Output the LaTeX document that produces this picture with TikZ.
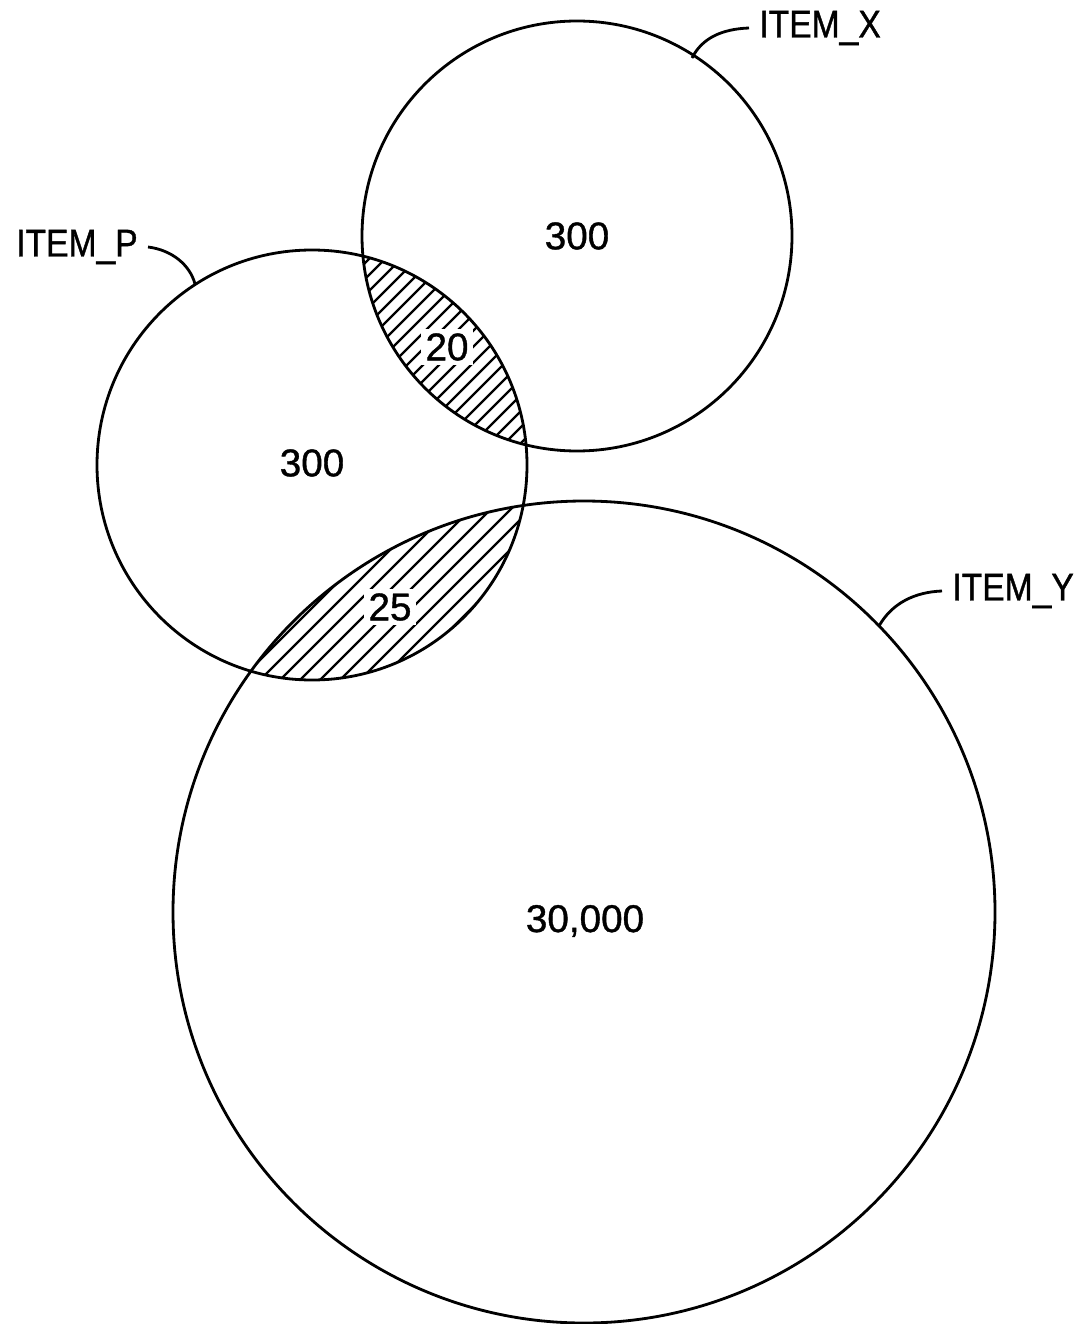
\documentclass[tikz,border=0pt]{standalone}
\usepackage{fontspec}
\setmainfont[FakeBold=1]{Liberation Sans}
\newfontfamily\labfont[FakeStretch=0.87,FakeBold=1]{Liberation Sans}
\begin{document}
\begin{tikzpicture}[x=0.02cm,y=-0.02cm,
  ring/.style={line width=1.6pt},
  hatchline/.style={line width=1.3pt},
  num/.style={font=\fontsize{22}{26}\selectfont, inner sep=1pt},
  numw/.style={num, fill=white, inner sep=2.5pt},
  lab/.style={font=\labfont\fontsize{22}{26}\selectfont, inner sep=0pt},
  leader/.style={line width=1.6pt}]
\useasboundingbox (0,0) rectangle (1089,1324);
% centres
\coordinate (cX) at (577,236);
\coordinate (cP) at (312,465);
\coordinate (cY) at (584,912);
% hatching X-P
\begin{scope}
  \clip (cX) circle (215);
  \clip (cP) circle (215);
  \foreach \c in {500,516,...,1100} \draw[hatchline] ({\c-1400},1400) -- ({\c+200},-200);
\end{scope}
% hatching P-Y
\begin{scope}
  \clip (cP) circle (215);
  \clip (cY) circle (411);
  \foreach \c in {800,820,...,1300} \draw[hatchline] ({\c-1400},1400) -- ({\c+200},-200);
\end{scope}
% numbers
\node[num] (nX) at (577,236) {300};
\node[num] (nP) at (312,463) {300};
\node[num] (nY) at (585,921) {30,000};
\node[numw] (nXP) at (447,347) {20};
\node[numw] (nPY) at (390,607) {25};
% circles
\draw[ring] (cX) circle (215);
\draw[ring] (cP) circle (215);
\draw[ring] (cY) circle (411);
% labels
\node[lab, anchor=west] (labX) at (759,28) {ITEM\_X};
\node[lab, anchor=east] (labP) at (138,247) {ITEM\_P};
\node[lab, anchor=west] (labY) at (952,591) {ITEM\_Y};
\coordinate (jX) at (692,58);
\coordinate (jP) at (195,284);
\coordinate (jY) at (879,626);
\draw[leader] ([xshift=-0.2cm]labX.west) .. controls (722,29) and (702,38) .. (jX);
\draw[leader] ([xshift=0.2cm]labP.east) .. controls (172,250) and (190,265) .. (jP);
\draw[leader] ([xshift=-0.2cm]labY.west) .. controls (915,592) and (892,603) .. (jY);
\end{tikzpicture}
\end{document}
